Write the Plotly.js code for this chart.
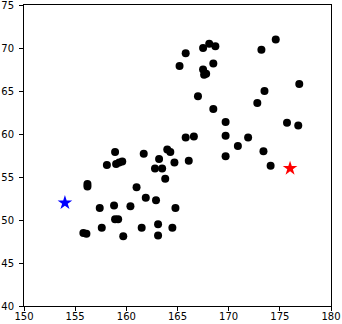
<!DOCTYPE html>
<html>
<head>
<meta charset="utf-8">
<script src="https://cdn.plot.ly/plotly-3.0.1.min.js"></script>
<style>html,body{margin:0;padding:0;background:#fff;}#chart{width:342px;height:324px;}</style>
</head>
<body>
<div id="chart"></div>
<script>
const heights = [174.6,173.2,168.1,168.7,167.5,165.8,165.2,168.5,167.5,167.6,167.8,176.9,173.5,167.0,172.8,168.5,169.7,175.7,176.8,165.8,166.6,169.7,171.9,170.9,169.7,173.4,174.1,158.9,161.7,164.0,164.3,163.2,164.7,166.1,158.1,159.0,159.3,159.6,162.8,163.5,163.8,156.2,156.2,161.0,161.9,162.9,157.4,158.8,160.4,164.8,158.9,159.2,155.8,156.1,157.6,159.7,161.5,163.1,163.1,164.5];
const weights = [71.0,69.8,70.5,70.2,70.0,69.4,67.9,68.2,67.5,66.9,67.0,65.8,65.0,64.4,63.6,62.9,61.4,61.3,61.0,59.6,59.7,59.8,59.6,58.6,57.4,58.0,56.3,57.9,57.7,58.2,57.9,57.1,56.7,56.9,56.4,56.5,56.7,56.8,56.0,56.0,54.8,54.2,53.9,53.8,52.6,52.3,51.4,51.7,51.6,51.4,50.1,50.1,48.5,48.4,49.1,48.1,49.1,49.5,48.2,49.1];
const blueStar = {x:[154], y:[52]};
const redStar = {x:[176], y:[56]};

const traces = [
  {type:'scatter', mode:'markers', x:heights, y:weights, marker:{color:'black', size:8}, hoverinfo:'none'},
  {type:'scatter', mode:'markers', x:blueStar.x, y:blueStar.y, marker:{color:'blue', size:11, symbol:'star'}},
  {type:'scatter', mode:'markers', x:redStar.x, y:redStar.y, marker:{color:'red', size:11, symbol:'star'}}
];
const axisCommon = {
  showgrid:false, zeroline:false, showline:true, mirror:true, linecolor:'black', linewidth:1,
  ticks:'outside', ticklen:4, tickwidth:1, tickcolor:'black', ticklabeloverflow:'allow',
  tickfont:{family:'DejaVu Sans', size:10, color:'black'}, dtick:5
};
const layout = {
  width:342, height:324,
  margin:{l:24, r:11, t:5, b:18},
  showlegend:false,
  paper_bgcolor:'white', plot_bgcolor:'white',
  xaxis:Object.assign({range:[150,180], tick0:150, ticklabelstandoff:-3}, axisCommon),
  yaxis:Object.assign({range:[40,75], tick0:40, ticklabelstandoff:3}, axisCommon)
};
Plotly.newPlot('chart', traces, layout, {displayModeBar:false, staticPlot:true});
</script>
</body>
</html>
